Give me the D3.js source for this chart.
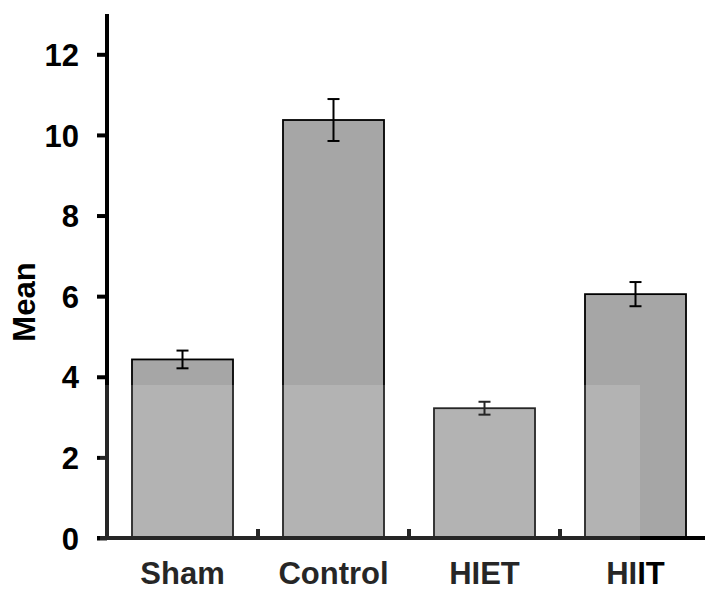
<!DOCTYPE html>
<html>
<head>
<meta charset="utf-8">
<script src="https://cdn.jsdelivr.net/npm/d3@7"></script>
<style>
  body { margin: 0; background: #fff; }
  text { font-family: "Liberation Sans", Arial, sans-serif; font-weight: bold; fill: #000; }
</style>
</head>
<body>
<svg id="chart" width="705" height="591"></svg>
<script>
const groups = ["Sham", "Control", "HIET", "HIIT"];
const means = [4.43, 10.37, 3.22, 6.05];
const errs = [0.22, 0.52, 0.16, 0.30];
const yTicks = [0, 2, 4, 6, 8, 10, 12];

const svg = d3.select("#chart");

let x = d3.scaleBand()
  .domain(groups)
  .range([107, 711])
  .paddingInner(0.331)
  .paddingOuter(0.1655);

let y = d3.scaleLinear()
  .domain([0, 13])
  .range([538, 14]);

// bars
svg.selectAll("rect.bar")
  .data(groups)
  .enter()
  .append("rect")
  .attr("class", "bar")
  .attr("x", d => x(d))
  .attr("y", (d, i) => y(means[i]))
  .attr("width", x.bandwidth())
  .attr("height", (d, i) => y(0) - y(means[i]))
  .attr("fill", "#a6a6a6")
  .attr("stroke", "#000")
  .attr("stroke-width", 1.8);

// error bars
let eb = svg.selectAll("g.err")
  .data(groups)
  .enter()
  .append("g")
  .attr("class", "err")
  .attr("stroke", "#000")
  .attr("stroke-width", 2);

eb.append("line")
  .attr("x1", d => x(d) + x.bandwidth() / 2)
  .attr("x2", d => x(d) + x.bandwidth() / 2)
  .attr("y1", (d, i) => y(means[i] + errs[i]))
  .attr("y2", (d, i) => y(means[i] - errs[i]));

eb.append("line")
  .attr("x1", d => x(d) + x.bandwidth() / 2 - 6)
  .attr("x2", d => x(d) + x.bandwidth() / 2 + 6)
  .attr("y1", (d, i) => y(means[i] + errs[i]))
  .attr("y2", (d, i) => y(means[i] + errs[i]));

eb.append("line")
  .attr("x1", d => x(d) + x.bandwidth() / 2 - 6)
  .attr("x2", d => x(d) + x.bandwidth() / 2 + 6)
  .attr("y1", (d, i) => y(means[i] - errs[i]))
  .attr("y2", (d, i) => y(means[i] - errs[i]));

// y axis
let yAxis = d3.axisLeft(y).tickValues(yTicks).tickSize(10).tickPadding(18).tickFormat(d3.format("d"));
let yG = svg.append("g")
  .attr("transform", "translate(107,0)")
  .call(yAxis);
yG.select(".domain").attr("d", "M0," + y(13) + "V" + y(0)).attr("stroke-width", 4);
yG.selectAll(".tick line").attr("stroke-width", 4);
yG.selectAll(".tick text").style("font-size", "31px").attr("dy", "0.36em");

// x axis with small ticks between the groups
let xG = svg.append("g");
xG.append("line")
  .attr("x1", 97).attr("x2", 705)
  .attr("y1", y(0)).attr("y2", y(0))
  .attr("stroke", "#000").attr("stroke-width", 4);

xG.selectAll("line.sep")
  .data(groups.slice(0, 3))
  .enter()
  .append("line")
  .attr("class", "sep")
  .attr("x1", d => x(d) + x.bandwidth() + (x.step() - x.bandwidth()) / 2)
  .attr("x2", d => x(d) + x.bandwidth() + (x.step() - x.bandwidth()) / 2)
  .attr("y1", y(0))
  .attr("y2", y(0) - 9)
  .attr("stroke", "#000").attr("stroke-width", 4);

xG.selectAll("text.cat")
  .data(groups)
  .enter()
  .append("text")
  .attr("class", "cat")
  .attr("x", d => x(d) + x.bandwidth() / 2)
  .attr("y", 584)
  .attr("text-anchor", "middle")
  .style("font-size", "31px")
  .text(d => d);

// y label
svg.append("text")
  .attr("transform", "translate(35,302) rotate(-90)")
  .attr("text-anchor", "middle")
  .style("font-size", "31px")
  .text("Mean");

// faint watermark wash over the lower part
svg.append("rect")
  .attr("x", 100).attr("y", 385)
  .attr("width", 540).attr("height", 206)
  .attr("fill", "#fff").attr("opacity", 0.15);
</script>
</body>
</html>
